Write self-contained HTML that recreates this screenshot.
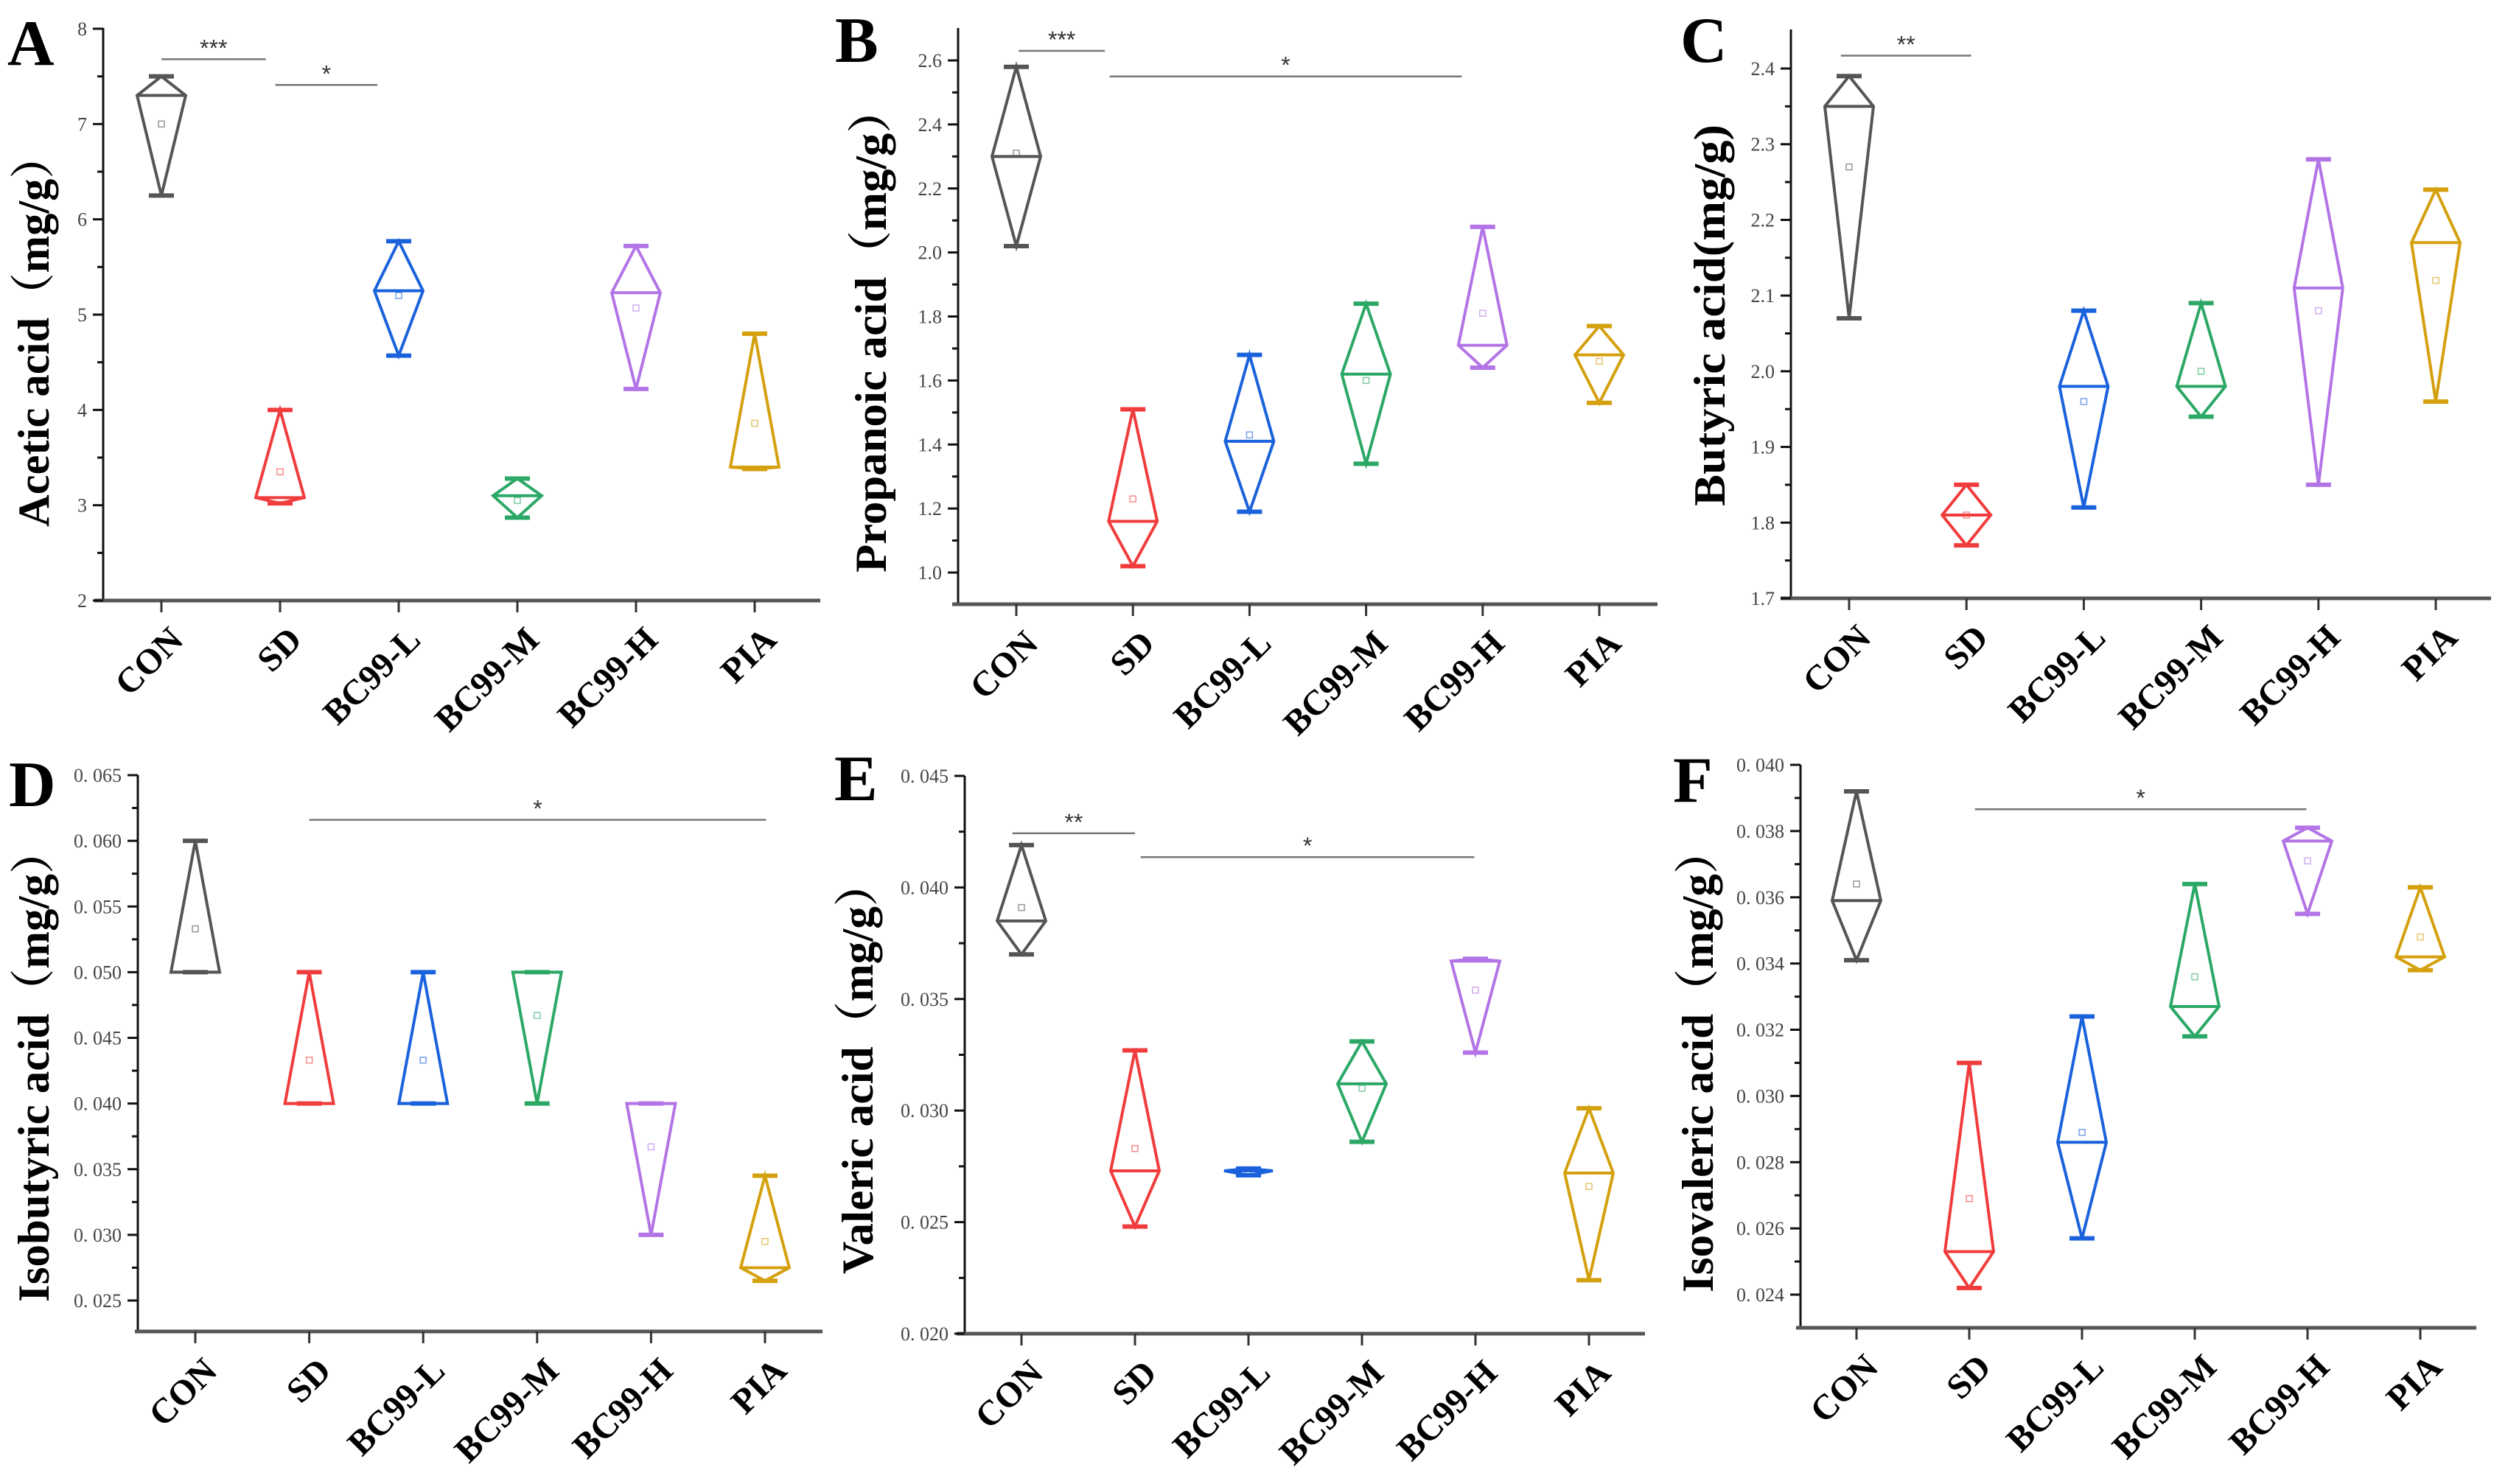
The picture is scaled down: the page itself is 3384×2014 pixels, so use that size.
<!DOCTYPE html>
<html><head><meta charset="utf-8"><style>
html,body{margin:0;padding:0;background:#fff;}
svg{display:block;}
</style></head><body>
<svg id="fig" xmlns="http://www.w3.org/2000/svg" width="3384" height="2014" viewBox="0 0 3384 2014"></svg>
<script>
const groups = ['CON','SD','BC99-L','BC99-M','BC99-H','PIA'];
const colors = ['#555555','#f03c3c','#1a62dc','#2ca866','#b374e6','#d4a00e'];

// A Acetic
const aMax=[7.5,4.0,5.77,3.28,5.72,4.8];
const aMed=[7.3,3.08,5.25,3.1,5.23,3.4];
const aMin=[6.25,3.02,4.57,2.87,4.22,3.38];
const aMean=[7.0,3.35,5.2,3.05,5.07,3.86];
const aTicks=[2,3,4,5,6,7,8];
const aTickLabels=['2','3','4','5','6','7','8'];
// B Propanoic
const bMax=[2.58,1.51,1.68,1.84,2.08,1.77];
const bMed=[2.30,1.16,1.41,1.62,1.71,1.68];
const bMin=[2.02,1.02,1.19,1.34,1.64,1.53];
const bMean=[2.31,1.23,1.43,1.60,1.81,1.66];
const bTicks=[1.0,1.2,1.4,1.6,1.8,2.0,2.2,2.4,2.6];
const bTickLabels=['1.0','1.2','1.4','1.6','1.8','2.0','2.2','2.4','2.6'];
// C Butyric
const cMax=[2.39,1.85,2.08,2.09,2.28,2.24];
const cMed=[2.35,1.81,1.98,1.98,2.11,2.17];
const cMin=[2.07,1.77,1.82,1.94,1.85,1.96];
const cMean=[2.27,1.81,1.96,2.00,2.08,2.12];
const cTicks=[1.7,1.8,1.9,2.0,2.1,2.2,2.3,2.4];
const cTickLabels=['1.7','1.8','1.9','2.0','2.1','2.2','2.3','2.4'];
// D Isobutyric
const dMax=[0.060,0.050,0.050,0.050,0.040,0.0345];
const dMed=[0.050,0.040,0.040,0.050,0.040,0.0275];
const dMin=[0.050,0.040,0.040,0.040,0.030,0.0265];
const dMean=[0.0533,0.0433,0.0433,0.0467,0.0367,0.0295];
const dTicks=[0.025,0.030,0.035,0.040,0.045,0.050,0.055,0.060,0.065];
const dTickLabels=['0. 025','0. 030','0. 035','0. 040','0. 045','0. 050','0. 055','0. 060','0. 065'];
// E Valeric
const eMax=[0.0419,0.0327,0.0274,0.0331,0.0368,0.0301];
const eMed=[0.0385,0.0273,0.0273,0.0312,0.0367,0.0272];
const eMin=[0.0370,0.0248,0.0271,0.0286,0.0326,0.0224];
const eMean=[0.0391,0.0283,0.0272,0.0310,0.0354,0.0266];
const eTicks=[0.020,0.025,0.030,0.035,0.040,0.045];
const eTickLabels=['0. 020','0. 025','0. 030','0. 035','0. 040','0. 045'];
// F Isovaleric
const fMax=[0.0392,0.0310,0.0324,0.0364,0.0381,0.0363];
const fMed=[0.0359,0.0253,0.0286,0.0327,0.0377,0.0342];
const fMin=[0.0341,0.0242,0.0257,0.0318,0.0355,0.0338];
const fMean=[0.0364,0.0269,0.0289,0.0336,0.0371,0.0348];
const fTicks=[0.024,0.026,0.028,0.030,0.032,0.034,0.036,0.038,0.040];
const fTickLabels=['0. 024','0. 026','0. 028','0. 030','0. 032','0. 034','0. 036','0. 038','0. 040'];

// significance brackets: [fromIndex, toIndex, value, label]
const aSig=[[0,0.88,7.68,'***'],[0.96,1.82,7.41,'*']];
const bSig=[[0.02,0.76,2.63,'***'],[0.8,3.82,2.55,'*']];
const cSig=[[-0.07,1.04,2.417,'**']];
const dSig=[[1,5.01,0.0616,'*']];
const eSig=[[-0.08,1.0,0.04243,'**'],[1.05,3.99,0.04136,'*']];
const fSig=[[1.05,3.99,0.03866,'*']];

const NS='http://www.w3.org/2000/svg';
const svg=document.getElementById('fig');
function mk(tag,attrs,parent){const e=document.createElementNS(NS,tag);for(const k in attrs)e.setAttribute(k,attrs[k]);(parent||svg).appendChild(e);return e;}

const panels=[
 {id:'a',letter:'A',lx:10,ly:88,title:'Acetic acid（mg/g）',tx:66,ty0:182,ty1:715,
  axX:140,xL:128,xR:1113,axY:815,yTopPx:38,v0:8,p0:39,v1:2,p1:815,c0:219,dc:161,
  max:aMax,med:aMed,min:aMin,mean:aMean,ticks:aTicks,tl:aTickLabels,sig:aSig},
 {id:'b',letter:'B',lx:1133,ly:84,title:'Propanoic acid（mg/g）',tx:1202,ty0:118,ty1:777,
  axX:1300,xL:1292,xR:2249,axY:820,yTopPx:38,v0:2.6,p0:82,v1:1.0,p1:777,c0:1379,dc:158.2,
  max:bMax,med:bMed,min:bMin,mean:bMean,ticks:bTicks,tl:bTickLabels,sig:bSig},
 {id:'c',letter:'C',lx:2280,ly:84,title:'Butyric acid(mg/g)',tx:2340,ty0:169,ty1:687,
  axX:2430,xL:2416,xR:3380,axY:812,yTopPx:40,v0:2.4,p0:93,v1:1.7,p1:812,c0:2509,dc:159.2,
  max:cMax,med:cMed,min:cMin,mean:cMean,ticks:cTicks,tl:cTickLabels,sig:cSig},
 {id:'d',letter:'D',lx:12,ly:1094,title:'Isobutyric acid（mg/g）',tx:66,ty0:1125,ty1:1767,
  axX:187,xL:183,xR:1116,axY:1807,yTopPx:1052,v0:0.065,p0:1052,v1:0.025,p1:1765,c0:265,dc:154.6,
  max:dMax,med:dMed,min:dMin,mean:dMean,ticks:dTicks,tl:dTickLabels,sig:dSig},
 {id:'e',letter:'E',lx:1132,ly:1086,title:'Valeric acid（mg/g）',tx:1184,ty0:1169,ty1:1729,
  axX:1309,xL:1298,xR:2232,axY:1810,yTopPx:1053,v0:0.045,p0:1053,v1:0.020,p1:1810,c0:1386,dc:154,
  max:eMax,med:eMed,min:eMin,mean:eMean,ticks:eTicks,tl:eTickLabels,sig:eSig},
 {id:'f',letter:'F',lx:2270,ly:1088,title:'Isovaleric acid（mg/g）',tx:2324,ty0:1125,ty1:1754,
  axX:2443,xL:2437,xR:3360,axY:1802,yTopPx:1038,v0:0.040,p0:1038,v1:0.024,p1:1757,c0:2519,dc:153,
  max:fMax,med:fMed,min:fMin,mean:fMean,ticks:fTicks,tl:fTickLabels,sig:fSig}
];

panels.forEach(P=>{
  const g=mk('g',{});
  
  
  const y=v=>P.p0+(v-P.v0)*(P.p1-P.p0)/(P.v1-P.v0);
  const x=i=>P.c0+i*P.dc;

  const L=mk('text',{x:P.lx,y:P.ly,'font-family':'Liberation Serif, serif','font-weight':'bold','font-size':88,fill:'#000'},g);
  L.textContent=P.letter;
  
  

  const cy=(P.ty0+P.ty1)/2;
  const T=mk('text',{x:P.tx,y:cy,transform:`rotate(-90 ${P.tx} ${cy})`,'text-anchor':'middle','font-family':'Liberation Serif, Noto Serif CJK SC, serif','font-weight':'bold','font-size':60,fill:'#000',textLength:(P.ty1-P.ty0),lengthAdjust:'spacingAndGlyphs'},g);
  T.textContent=P.title;
  
  

  const ya=mk('line',{x1:P.axX,y1:P.yTopPx,x2:P.axX,y2:P.axY,stroke:'#111','stroke-width':3},g);
  
  
  const xa=mk('line',{x1:P.xL,y1:P.axY,x2:P.xR,y2:P.axY,stroke:'#555','stroke-width':5},g);
  
  

  const step=P.ticks[1]-P.ticks[0];
  P.ticks.forEach((t,k)=>{
    const ty=y(t);
    const tk=mk('line',{x1:P.axX-14,y1:ty,x2:P.axX,y2:ty,stroke:'#111','stroke-width':3},g);
    
    
    const lb=mk('text',{x:P.axX-22,y:ty+9,'text-anchor':'end','font-family':'Liberation Serif, serif','font-size':26,fill:'#444'},g);
    lb.textContent=P.tl[k];
    
    
    if(k<P.ticks.length-1){
      const my=y(t+step/2);
      const mt=mk('line',{x1:P.axX-8,y1:my,x2:P.axX,y2:my,stroke:'#111','stroke-width':3},g);
      
      
    }
  });

  groups.forEach((name,i)=>{
    const cx=x(i);
    const tk=mk('line',{x1:cx,y1:P.axY,x2:cx,y2:P.axY+16,stroke:'#333','stroke-width':3},g);
    
    
    const px=cx+32, py=P.axY+56;
    const lb=mk('text',{x:px,y:py,transform:`rotate(-45 ${px} ${py})`,'text-anchor':'end','font-family':'Liberation Serif, serif','font-weight':'bold','font-size':48,fill:'#000'},g);
    lb.textContent=name;
    
    
  });

  groups.forEach((name,i)=>{
    const cx=x(i), col=colors[i];
    const yMax=y(P.max[i]), yMed=y(P.med[i]), yMin=y(P.min[i]);
    const hw=33, cw=17;
    const vg=mk('g',{stroke:col,'stroke-width':4,fill:'none','stroke-linejoin':'miter'},g);
    
    
    mk('polygon',{points:`${cx},${yMax} ${cx+hw},${yMed} ${cx},${yMin} ${cx-hw},${yMed}`},vg);
    mk('line',{x1:cx-hw,y1:yMed,x2:cx+hw,y2:yMed},vg);
    mk('line',{x1:cx-cw,y1:yMax,x2:cx+cw,y2:yMax,'stroke-width':6},vg);
    mk('line',{x1:cx-cw,y1:yMin,x2:cx+cw,y2:yMin,'stroke-width':6},vg);
    const m=mk('rect',{x:cx-4,y:y(P.mean[i])-4,width:8,height:8,fill:'none',stroke:col,'stroke-width':1.5,opacity:0.6},g);
    
    
  });

  P.sig.forEach(s=>{
    const x1=x(s[0]), x2=x(s[1]), sy=y(s[2]);
    const ln=mk('line',{x1:x1,y1:sy,x2:x2,y2:sy,stroke:'#777','stroke-width':2.5},g);
    
    
    const st=mk('text',{x:(x1+x2)/2,y:sy-4,'text-anchor':'middle','font-family':'Liberation Sans, sans-serif','font-size':32,fill:'#333'},g);
    st.textContent=s[3];
    
    
  });
});
</script>
</body></html>
